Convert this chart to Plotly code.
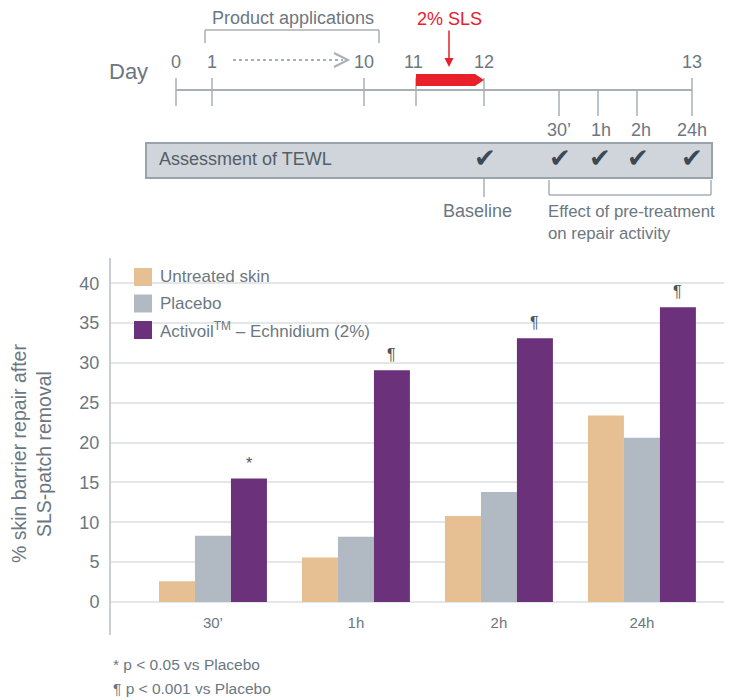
import plotly.graph_objects as go

# ---------------- data ----------------
categories = ["30’", "1h", "2h", "24h"]
series_names = ["Untreated skin", "Placebo", "Activoil<sup>TM</sup> – Echnidium (2%)"]
untreated = [2.6, 5.6, 10.8, 23.4]
placebo = [8.3, 8.2, 13.8, 20.6]
activoil = [15.5, 29.1, 33.1, 37.0]
significance = ["*", "¶", "¶", "¶"]
y_ticks = [0, 5, 10, 15, 20, 25, 30, 35, 40]
footnotes = ["* p < 0.05 vs Placebo", "¶ p < 0.001 vs Placebo"]

timeline_days = ["0", "1", "10", "11", "12", "13"]
assessment_times = ["30’", "1h", "2h", "24h"]

colors = ["#e6c092", "#b1bac3", "#6b317a"]
TXT = "#6c7781"
GRID = "#e3e7ea"
OFF = 8  # page body margin
W, H = 732 - OFF, 700 - OFF
FONT = "Liberation Sans"


def px(x):
    return (x - OFF) / W


def py(y):
    return 1 - (y - OFF) / H


fig = go.Figure()
for name, vals, c in zip(series_names, [untreated, placebo, activoil], colors):
    fig.add_trace(go.Bar(x=categories, y=vals, name=name, marker=dict(color=c, line=dict(width=0)),
                         showlegend=False))

shapes = []
annotations = []

# legend (manual)
for i, (name, c) in enumerate(zip(series_names, colors)):
    yc = 277 + i * 26.5
    shapes.append(dict(type="rect", xref="paper", yref="paper", x0=px(134), x1=px(152),
                       y0=py(yc - 9), y1=py(yc + 9), fillcolor=c, line=dict(width=0)))
    annotations.append(dict(xref="paper", yref="paper", x=px(158), y=py(yc), text=name,
                            showarrow=False, xanchor="left", yanchor="middle",
                            font=dict(family=FONT, size=17, color=TXT)))

# significance markers
bw = 0.755 / 3
for i, (s, v) in enumerate(zip(significance, activoil)):
    annotations.append(dict(x=i + bw, y=v, xref="x", yref="y", text=s, showarrow=False,
                            yanchor="bottom", yshift=5,
                            font=dict(family=FONT, size=16, color="#4a5560")))

# y-axis title (two lines)
for xpos, t in [(19, "% skin barrier repair after"), (44, "SLS-patch removal")]:
    annotations.append(dict(xref="paper", yref="paper", x=px(xpos), y=py(454), text=t,
                            textangle=-90, showarrow=False, xanchor="center", yanchor="middle",
                            font=dict(family=FONT, size=19.5, color=TXT)))

# footnotes
for i, t in enumerate(footnotes):
    annotations.append(dict(xref="paper", yref="paper", x=px(111), y=py(664 + i * 24), text=t,
                            showarrow=False, xanchor="left", yanchor="middle",
                            font=dict(family=FONT, size=15.5, color=TXT)))

# ---------------- timeline diagram ----------------
LINE = "#a7afb7"
TFS = 18
day_x = [176, 212, 364, 414, 484, 692]
annotations.append(dict(xref="paper", yref="paper", x=px(107), y=py(72), text="Day",
                        showarrow=False, xanchor="left", yanchor="middle",
                        font=dict(family=FONT, size=22, color=TXT)))
for d, xx in zip(timeline_days, day_x):
    annotations.append(dict(xref="paper", yref="paper", x=px(xx), y=py(62), text=d,
                            showarrow=False, xanchor="center", yanchor="middle",
                            font=dict(family=FONT, size=TFS, color=TXT)))


def line(x0, y0, x1, y1, color=LINE, width=1.5, dash="solid"):
    shapes.append(dict(type="line", xref="paper", yref="paper", x0=px(x0), y0=py(y0),
                       x1=px(x1), y1=py(y1), line=dict(color=color, width=width, dash=dash)))


line(176, 90, 692, 90, width=2)
for xx in [176, 212, 364, 416, 484]:
    line(xx, 78, xx, 106)
line(692, 78, 692, 116)
for xx in [559, 598, 637]:
    line(xx, 90, xx, 116)

# product applications bracket
annotations.append(dict(xref="paper", yref="paper", x=px(293), y=py(18), text="Product applications",
                        showarrow=False, xanchor="center", yanchor="middle",
                        font=dict(family=FONT, size=TFS, color=TXT)))
line(205, 30, 379, 30)
line(205, 30, 205, 43)
line(379, 30, 379, 43)

# dashed arrow
line(233, 60, 343, 60, width=2, dash="dot")
shapes.append(dict(type="path", xref="paper", yref="paper",
                   path=f"M {px(334)} {py(53)} L {px(348)} {py(60)} L {px(334)} {py(67)}",
                   line=dict(color=LINE, width=2)))

# red SLS bar
shapes.append(dict(type="path", xref="paper", yref="paper",
                   path=(f"M {px(416)} {py(74)} L {px(475)} {py(74)} L {px(484)} {py(80)} "
                         f"L {px(475)} {py(86)} L {px(416)} {py(86)} Z"),
                   fillcolor="#e8202a", line=dict(width=0)))
annotations.append(dict(xref="paper", yref="paper", x=px(449), y=py(67), text="2% SLS",
                        showarrow=True, ax=0, ay=-48, arrowcolor="#e8202a", arrowhead=2,
                        arrowwidth=1.5, arrowsize=1.2,
                        font=dict(family=FONT, size=TFS, color="#e8202a")))

# assessment box
shapes.append(dict(type="rect", xref="paper", yref="paper", x0=px(146), x1=px(712),
                   y0=py(143), y1=py(178), fillcolor="#cfd5da", line=dict(color="#9aa3ab", width=2)))
annotations.append(dict(xref="paper", yref="paper", x=px(157), y=py(159), text="Assessment of TEWL",
                        showarrow=False, xanchor="left", yanchor="middle",
                        font=dict(family=FONT, size=TFS, color="#545e66")))
for xx in [485, 560, 600, 638, 692]:
    annotations.append(dict(xref="paper", yref="paper", x=px(xx), y=py(158), text="✔",
                            showarrow=False, xanchor="center", yanchor="middle",
                            font=dict(family="DejaVu Sans", size=26, color="#3c4853")))
for t, xx in zip(assessment_times, [559, 601, 641, 692]):
    annotations.append(dict(xref="paper", yref="paper", x=px(xx), y=py(130), text=t,
                            showarrow=False, xanchor="center", yanchor="middle",
                            font=dict(family=FONT, size=TFS, color=TXT)))
line(484, 179, 484, 197)
annotations.append(dict(xref="paper", yref="paper", x=px(478), y=py(211), text="Baseline",
                        showarrow=False, xanchor="center", yanchor="middle",
                        font=dict(family=FONT, size=TFS, color=TXT)))
line(549, 180, 549, 195)
line(711, 180, 711, 195)
line(549, 195, 711, 195)
annotations.append(dict(xref="paper", yref="paper", x=px(546), y=py(211), text="Effect of pre-treatment",
                        showarrow=False, xanchor="left", yanchor="middle",
                        font=dict(family=FONT, size=16.8, color=TXT)))
annotations.append(dict(xref="paper", yref="paper", x=px(546), y=py(233), text="on repair activity",
                        showarrow=False, xanchor="left", yanchor="middle",
                        font=dict(family=FONT, size=16.8, color=TXT)))

# axis line
line(110, 258, 110, 635, color="#c9ced3", width=2)

Y0, Y40 = 602, 283.3
upp = (Y0 - Y40) / 40
PT, PB = 258, 612
fig.update_layout(
    width=W, height=H, margin=dict(l=0, r=0, t=0, b=0),
    paper_bgcolor="white", plot_bgcolor="white",
    barmode="group", bargap=0.245, bargroupgap=0,
    shapes=shapes, annotations=annotations,
    xaxis=dict(domain=[px(110), 1], range=[-0.72, 3.63], showgrid=False, zeroline=False,
               showline=False, ticks="", tickfont=dict(family=FONT, size=15, color=TXT)),
    yaxis=dict(domain=[py(PB), py(PT)], range=[(Y0 - PB) / upp, (Y0 - PT) / upp], tickvals=y_ticks,
               showgrid=True, gridcolor=GRID, gridwidth=2, zeroline=False, showline=False,
               ticks="outside", ticklen=6, tickcolor="rgba(0,0,0,0)",
               tickfont=dict(family=FONT, size=18, color=TXT)),
)

fig.write_html("out.html")
